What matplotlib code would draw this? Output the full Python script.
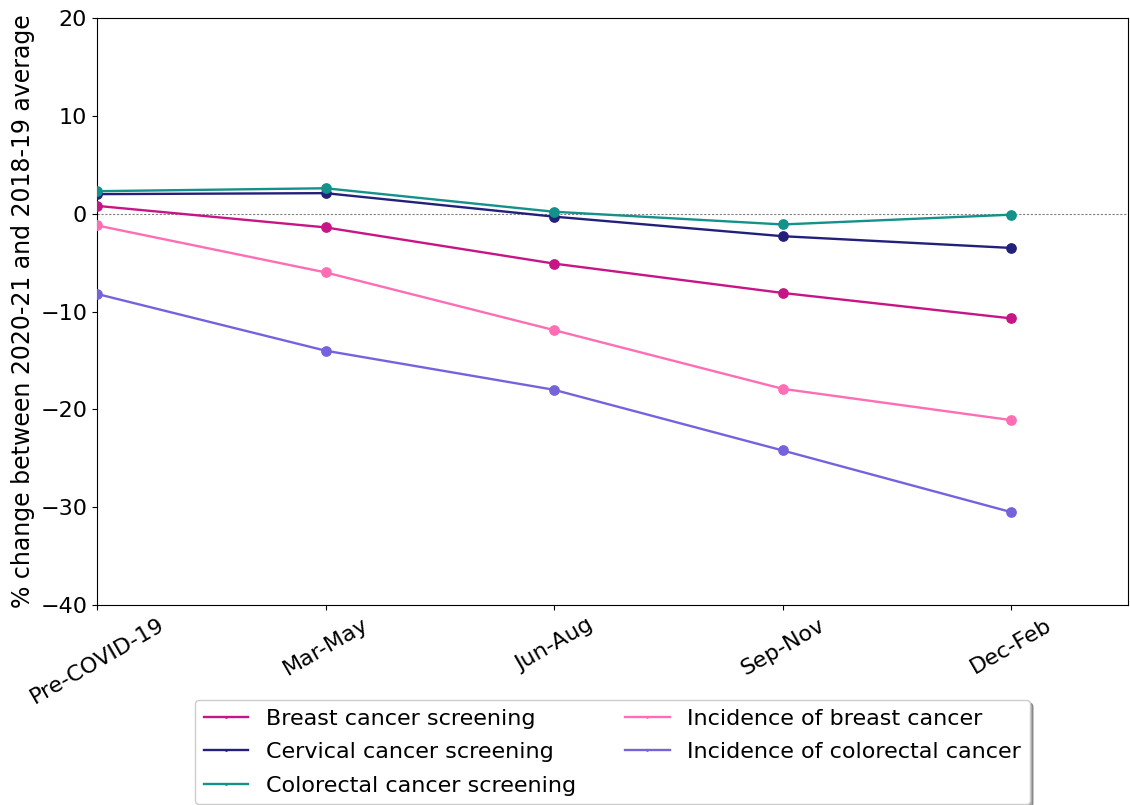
import matplotlib
matplotlib.use('Agg')
import matplotlib.pyplot as plt

# Periods on the x axis
periods = ['Pre-COVID-19', 'Mar-May', 'Jun-Aug', 'Sep-Nov', 'Dec-Feb']

# % change between 2020-21 and the 2018-19 average
breast_screening = [0.8, -1.4, -5.1, -8.1, -10.7]
cervical_screening = [2.0, 2.1, -0.3, -2.3, -3.5]
colorectal_screening = [2.3, 2.6, 0.2, -1.1, -0.1]
breast_incidence = [-1.2, -6.0, -11.9, -17.9, -21.1]
colorectal_incidence = [-8.2, -14.0, -18.0, -24.2, -30.5]

series = [
    ('Breast cancer screening', breast_screening, '#c71585'),
    ('Cervical cancer screening', cervical_screening, '#23207a'),
    ('Colorectal cancer screening', colorectal_screening, '#14918a'),
    ('Incidence of breast cancer', breast_incidence, '#ff6eb4'),
    ('Incidence of colorectal cancer', colorectal_incidence, '#7563dd'),
]

fig = plt.figure(figsize=(11.3, 8.05), dpi=100)
ax = fig.add_axes([0.0858, 0.2484, 0.9122, 0.7292])

x = list(range(len(periods)))
for label, values, colour in series:
    ax.plot(x, values, color=colour, linewidth=1.7, marker='.', markersize=2, label=label)
    ax.scatter(x, values, color=colour, s=45, zorder=3)

ax.axhline(0, color='grey', linewidth=0.8, linestyle=(0, (2, 1.5)), zorder=1)

ax.set_xlim(0, 4.51)
ax.set_ylim(-40, 20)
ax.set_yticks([-40, -30, -20, -10, 0, 10, 20])
ax.set_xticks(x)
ax.set_xticklabels(periods, rotation=30, ha='center', fontsize=16)
ax.tick_params(axis='y', labelsize=16)
ax.set_ylabel('% change between 2020-21 and 2018-19 average', fontsize=17)

fig.legend(loc='upper left', bbox_to_anchor=(0.1726, 0.1304), ncol=2,
           fontsize=16, shadow=True, handlelength=2.0, handletextpad=0.8,
           columnspacing=2.2, labelspacing=0.6, borderaxespad=0)

fig.savefig('out.png', dpi=100)
